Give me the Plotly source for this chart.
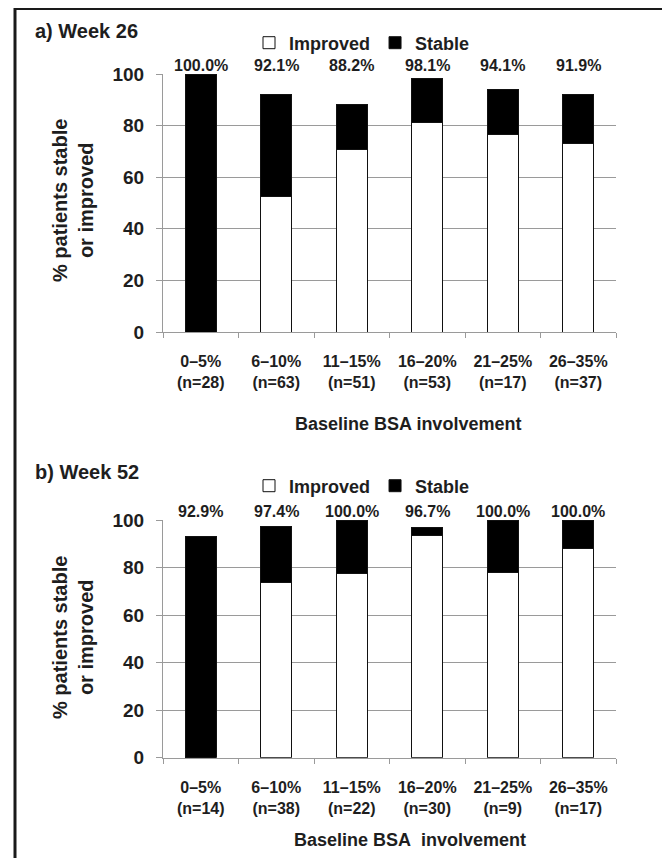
import plotly.graph_objects as go

# The page body has an 8px margin, so the figure is sized and positioned to compensate.
PAGE_W, PAGE_H = 670, 858
OFF = 8
W, H = PAGE_W - OFF, PAGE_H - OFF

categories = ["0–5%", "6–10%", "11–15%", "16–20%", "21–25%", "26–35%"]

n_week26 = [28, 63, 51, 53, 17, 37]
improved_week26 = [0.0, 52.4, 70.6, 81.1, 76.5, 73.0]
total_week26 = [100.0, 92.1, 88.2, 98.1, 94.1, 91.9]

n_week52 = [14, 38, 22, 30, 9, 17]
improved_week52 = [0.0, 73.7, 77.3, 93.3, 77.8, 88.2]
total_week52 = [92.9, 97.4, 100.0, 96.7, 100.0, 100.0]

y_ticks = [0, 20, 40, 60, 80, 100]

stable_week26 = [round(t - i, 1) for t, i in zip(total_week26, improved_week26)]
stable_week52 = [round(t - i, 1) for t, i in zip(total_week52, improved_week52)]

FONT = "Liberation Sans, Arial, sans-serif"
TXT = "#1e1e1e"
GRID = "#9a9a9a"


def px_x(x):
    return (x - OFF) / W


def px_y(y):
    return 1 - (y - OFF) / H


fig = go.Figure()

panels = [
    ("x", "y", "legend", n_week26, improved_week26, stable_week26, total_week26),
    ("x2", "y2", "legend2", n_week52, improved_week52, stable_week52, total_week52),
]

for xa, ya, leg, ns, imp, stab, tot in panels:
    labels = [f"{c}<br>({'n=' + str(n)})" for c, n in zip(categories, ns)]
    fig.add_trace(go.Bar(
        x=labels, y=imp, name="Improved", xaxis=xa, yaxis=ya, legend=leg,
        marker=dict(color="white", line=dict(color="#111", width=1)),
    ))
    fig.add_trace(go.Bar(
        x=labels, y=stab, name="Stable", xaxis=xa, yaxis=ya, legend=leg,
        marker=dict(color="black", line=dict(color="#111", width=1)),
    ))
    for lab, t in zip(labels, tot):
        fig.add_annotation(
            x=lab, y=100, xref=xa, yref=ya, text=f"{t:.1f}%", showarrow=False,
            yanchor="bottom", yshift=-2,
            font=dict(family=FONT, size=16, color=TXT, weight="bold"),
        )

axis_x = dict(
    showgrid=False, showline=True, linecolor=GRID, linewidth=1,
    ticks="outside", tickson="boundaries", ticklen=5, tickcolor=GRID,
    tickfont=dict(family=FONT, size=16, color=TXT, weight="bold"),
    ticklabelstandoff=15, automargin=False, fixedrange=True,
)
axis_y = dict(
    range=[0, 100], tickvals=y_ticks, showgrid=True, gridcolor=GRID, gridwidth=1,
    showline=True, linecolor=GRID, linewidth=1, zeroline=False,
    ticks="outside", ticklen=6, tickcolor=GRID,
    tickfont=dict(family=FONT, size=19, color=TXT, weight="bold"),
    ticklabelstandoff=8, automargin=False, fixedrange=True,
)

legend_common = dict(
    orientation="h", xanchor="left", yanchor="middle", traceorder="normal",
    bgcolor="rgba(0,0,0,0)", itemwidth=30,
    font=dict(family=FONT, size=18, color=TXT, weight="bold"),
)

fig.update_layout(
    width=W, height=H,
    margin=dict(l=0, r=0, t=0, b=0),
    paper_bgcolor="white", plot_bgcolor="white",
    barmode="stack", bargap=0.59,
    font=dict(family=FONT, color=TXT),
    xaxis=dict(domain=[px_x(163), px_x(616)], anchor="y", **axis_x),
    yaxis=dict(domain=[px_y(332), px_y(74)], anchor="x", **axis_y),
    xaxis2=dict(domain=[px_x(163), px_x(616)], anchor="y2", **axis_x),
    yaxis2=dict(domain=[px_y(757.7), px_y(520)], anchor="x2", **axis_y),
    legend=dict(x=px_x(249), y=px_y(43), **legend_common),
    legend2=dict(x=px_x(249), y=px_y(486), **legend_common),
    showlegend=True,
)

# Panel titles, axis titles
texts = [
    ("a) Week 26", 33, 31, 20, "left", 0),
    ("b) Week 52", 33, 472, 20, "left", 0),
    ("Baseline BSA involvement", 408, 424, 18, "center", 0),
    ("Baseline BSA\u00a0 involvement", 410, 840, 18, "center", 0),
    ("% patients stable<br>or improved", 73, 201, 20, "center", -90),
    ("% patients stable<br>or improved", 73, 638, 20, "center", -90),
]
for t, x, y, s, xa, ang in texts:
    fig.add_annotation(
        x=px_x(x), y=px_y(y), xref="paper", yref="paper", text=t, showarrow=False,
        xanchor=xa, yanchor="middle", textangle=ang,
        font=dict(family=FONT, size=s, color=TXT, weight="bold"),
    )

# Outer frame
fig.add_shape(type="rect", xref="paper", yref="paper",
              x0=px_x(15), x1=1.05, y0=-0.05, y1=px_y(8.5),
              line=dict(color="#1a1a1a", width=3), fillcolor="rgba(0,0,0,0)", layer="below")

fig.write_html("out.html")
